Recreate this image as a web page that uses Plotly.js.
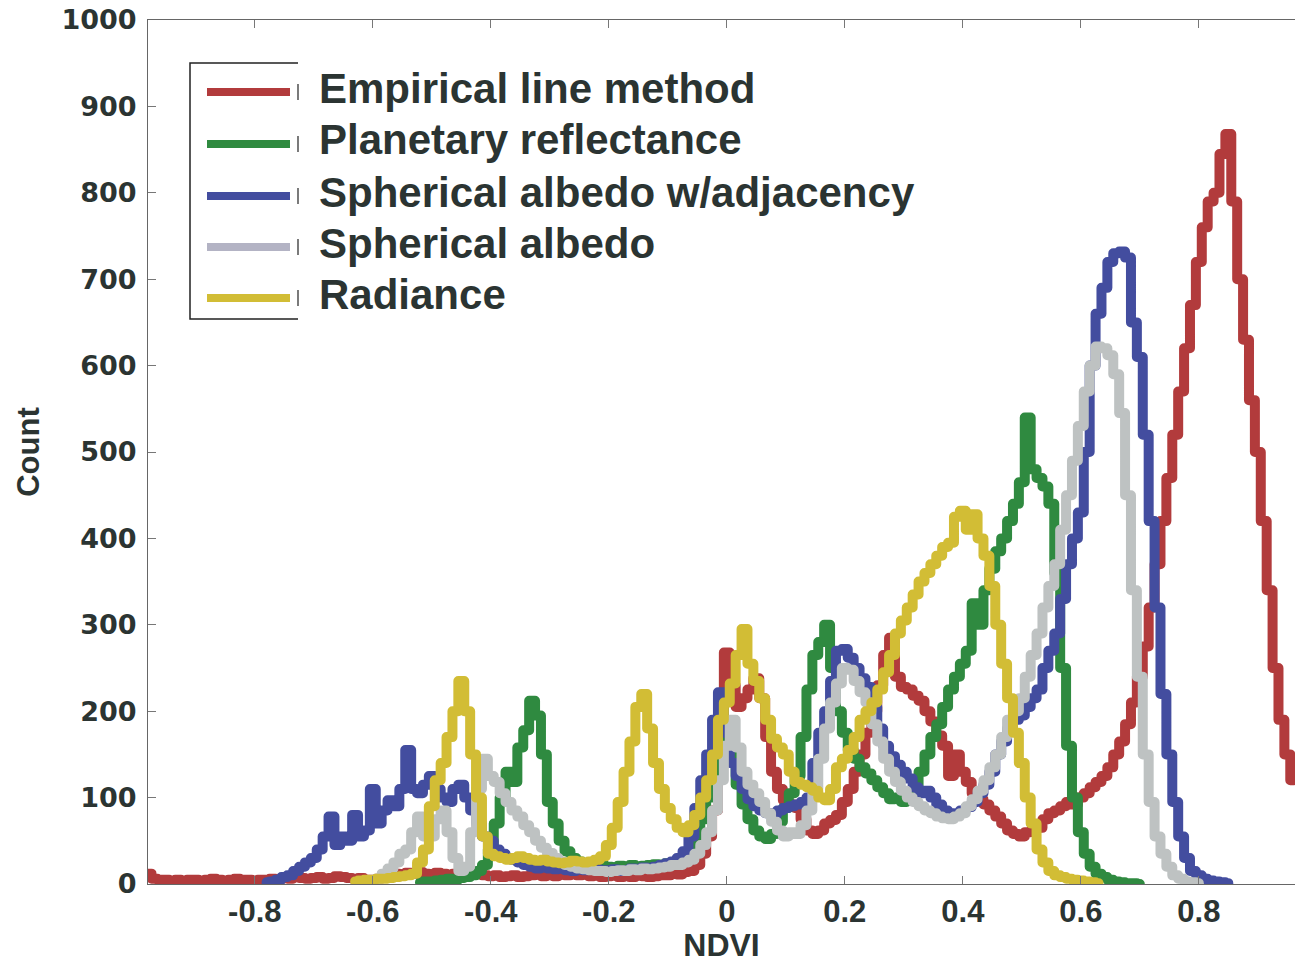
<!DOCTYPE html>
<html>
<head>
<meta charset="utf-8">
<script src="https://cdn.plot.ly/plotly-3.0.1.min.js"></script>
<style>html,body{margin:0;padding:0;background:#fff;}#chart{width:1295px;height:963px;}
.scatterlayer path.js-line{stroke-linejoin:round !important;stroke-linecap:round !important;}</style>
</head>
<body>
<div id="chart"></div>
<script>
// NDVI bin positions
const ndviBins = [
-0.98,-0.97,-0.96,-0.95,-0.94,-0.93,-0.92,-0.91,
-0.90,-0.89,-0.88,-0.87,-0.86,-0.85,-0.84,-0.83,-0.82,-0.81,
-0.80,-0.79,-0.78,-0.77,-0.76,-0.75,-0.74,-0.73,-0.72,-0.71,
-0.70,-0.69,-0.68,-0.67,-0.66,-0.65,-0.64,-0.63,-0.62,-0.61,
-0.60,-0.59,-0.58,-0.57,-0.56,-0.55,-0.54,-0.53,-0.52,-0.51,
-0.50,-0.49,-0.48,-0.47,-0.46,-0.45,-0.44,-0.43,-0.42,-0.41,
-0.40,-0.39,-0.38,-0.37,-0.36,-0.35,-0.34,-0.33,-0.32,-0.31,
-0.30,-0.29,-0.28,-0.27,-0.26,-0.25,-0.24,-0.23,-0.22,-0.21,
-0.20,-0.19,-0.18,-0.17,-0.16,-0.15,-0.14,-0.13,-0.12,-0.11,
-0.10,-0.09,-0.08,-0.07,-0.06,-0.05,-0.04,-0.03,-0.02,-0.01,
0.00,0.01,0.02,0.03,0.04,0.05,0.06,0.07,0.08,0.09,
0.10,0.11,0.12,0.13,0.14,0.15,0.16,0.17,0.18,0.19,
0.20,0.21,0.22,0.23,0.24,0.25,0.26,0.27,0.28,0.29,
0.30,0.31,0.32,0.33,0.34,0.35,0.36,0.37,0.38,0.39,
0.40,0.41,0.42,0.43,0.44,0.45,0.46,0.47,0.48,0.49,
0.50,0.51,0.52,0.53,0.54,0.55,0.56,0.57,0.58,0.59,
0.60,0.61,0.62,0.63,0.64,0.65,0.66,0.67,0.68,0.69,
0.70,0.71,0.72,0.73,0.74,0.75,0.76,0.77,0.78,0.79,
0.80,0.81,0.82,0.83,0.84,0.85,0.86,0.87,0.88,0.89,
0.90,0.91,0.92,0.93,0.94,0.95,0.96
];

const seriesNames = ["Empirical line method","Planetary reflectance","Spherical albedo w/adjacency","Spherical albedo","Radiance"];

const empiricalLine = [
12,6,5,5,4,5,4,5,
5,4,5,6,5,4,5,6,5,5,
4,5,5,6,5,7,6,8,7,6,
7,8,6,7,9,8,7,6,7,5,
5,6,8,10,12,11,13,12,14,12,
11,13,12,10,12,11,13,14,12,10,
9,10,8,9,10,8,9,10,11,9,
10,9,11,10,12,10,11,9,10,8,
9,10,8,9,8,10,9,8,9,10,
10,12,11,14,15,22,35,55,85,140,
268,230,205,215,225,238,215,170,130,110,
97,92,88,75,62,58,62,70,74,80,
95,110,130,150,175,200,230,265,285,240,
228,225,218,212,200,188,172,160,125,150,
130,118,105,98,92,85,78,70,62,58,
55,60,62,65,75,82,85,90,95,92,
100,105,112,118,125,135,150,165,185,210,
240,275,320,370,420,470,520,570,620,670,
720,760,790,800,845,868,790,700,630,560,
500,420,340,250,190,150,120
];

const planetaryRefl = [
null,null,null,null,null,null,null,null,
null,null,null,null,null,null,null,null,null,null,
null,null,null,null,null,null,null,null,null,null,
null,null,null,null,null,null,null,null,null,null,
null,null,null,null,null,null,null,null,2,3,
3,4,5,6,5,7,8,10,15,22,
40,70,100,130,118,158,178,212,195,150,
95,70,50,38,30,26,24,22,20,21,
20,19,21,20,22,20,21,22,23,22,
24,25,28,32,40,55,75,100,130,155,
165,150,115,92,75,62,55,52,58,72,
88,105,125,170,225,265,280,300,250,200,
175,155,145,135,128,120,112,105,98,100,
95,100,110,130,150,170,185,205,225,240,
255,270,325,300,340,365,385,400,420,440,
465,540,480,470,460,440,360,250,160,100,
60,35,20,12,8,5,3,2,1,1,
0,null,null,null,null,null,null,null,null,null,
null,null,null,null,null,null,null,null,null,null,
null,null,null,null,null,null,null
];

const sphAlbedoAdj = [
null,null,null,null,null,null,null,null,
null,null,null,null,null,null,null,null,null,null,
null,null,2,3,5,8,10,15,20,25,
30,40,55,78,45,55,50,80,55,62,
110,70,85,97,90,110,155,110,105,115,
125,110,100,95,110,115,100,85,70,55,
50,40,35,30,28,25,22,20,18,20,
18,17,18,16,15,17,16,18,17,16,
16,17,15,16,18,17,19,18,20,22,
24,26,30,38,55,88,120,150,190,222,
175,140,125,110,98,90,85,82,80,85,
88,90,92,95,100,140,175,200,235,270,
272,262,250,238,228,205,180,160,148,138,
130,122,112,105,108,100,92,85,82,80,
85,89,95,105,115,130,150,165,180,190,
195,205,215,225,250,270,290,330,370,400,
430,500,600,660,690,720,730,732,725,650,
610,520,420,320,220,150,95,55,30,15,
10,6,4,3,2,1,null,null,null,null,
null,null,null,null,null,null,null
];

const sphAlbedo = [
null,null,null,null,null,null,null,null,
null,null,null,null,null,null,null,null,null,null,
null,null,null,null,null,null,null,null,null,null,
null,null,null,null,null,null,null,null,null,null,
3,6,12,18,25,35,40,60,78,55,
55,75,85,60,30,15,20,60,110,145,
125,118,105,95,85,78,68,60,50,42,
36,30,26,22,20,18,17,16,15,15,
14,15,16,15,17,16,18,17,18,19,
20,22,22,25,28,35,45,60,85,120,
160,190,158,130,115,105,95,82,72,62,
55,60,58,68,85,110,145,180,210,232,
250,248,235,222,210,185,165,145,130,118,
108,100,95,90,85,82,78,76,75,78,
82,90,98,108,120,135,150,170,190,200,
215,240,265,290,320,345,370,410,450,490,
530,570,600,622,620,612,590,545,450,340,
240,150,95,55,35,20,10,6,3,2,
1,null,null,null,null,null,null,null,null,null,
null,null,null,null,null,null,null
];

const radiance = [
null,null,null,null,null,null,null,null,
null,null,null,null,null,null,null,null,null,null,
null,null,null,null,null,null,null,null,null,null,
null,null,null,null,null,null,null,3,4,5,
5,6,6,7,8,9,10,12,25,40,
90,120,140,170,200,235,200,150,100,55,
35,32,30,28,30,32,30,28,27,28,
26,25,24,25,27,26,25,26,28,32,
45,65,95,130,165,205,220,180,140,110,
88,75,65,60,68,80,100,120,150,190,
210,232,265,295,255,235,215,190,168,158,
150,130,118,115,112,108,100,97,110,135,
145,155,170,190,200,210,225,245,265,290,
305,320,335,350,360,370,380,390,395,425,
432,410,428,400,380,345,300,255,215,175,
140,100,70,40,25,15,10,8,6,5,
4,3,2,1,null,null,null,null,null,null,
null,null,null,null,null,null,null,null,null,null,
null,null,null,null,null,null,null,null,null,null,
null,null,null,null,null,null,null
];

const xTickVals = [-0.8,-0.6,-0.4,-0.2,0,0.2,0.4,0.6,0.8];
const xTickText = ["-0.8","-0.6","-0.4","-0.2","0","0.2","0.4","0.6","0.8"];
const yTickVals = [0,100,200,300,400,500,600,700,800,900,1000];
const yTickText = ["0","100","200","300","400","500","600","700","800","900","1000"];

const seriesValues = [empiricalLine, planetaryRefl, sphAlbedoAdj, sphAlbedo, radiance];
const colors = ["#b23b3c","#2f8a40","#434d9f","#bec2c2","#d2bd35"];
const legendColors = ["#b23b3c","#2f8a40","#434d9f","#b3b3c4","#d2bd35"];

const traces = seriesValues.map((vals, i) => ({
  type: "scatter", mode: "lines", name: seriesNames[i],
  x: ndviBins, y: vals,
  line: {color: colors[i], width: 10, shape: "hvh"},
  connectgaps: false, showlegend: false, hoverinfo: "x+y+name"
}));

// plot-area geometry (pixels)
const L = 148, T = 20, W = 1147, H = 864;
const px = v => (v - L) / W;
const py = v => (T + H - v) / H;

const textColor = "#2b3432";
const rowY = [88, 140, 192, 243, 294];
const shapes = [];
const annotations = [];
rowY.forEach((y, i) => {
  shapes.push({type: "line", xref: "paper", yref: "paper",
    x0: px(207), x1: px(290), y0: py(y + 4), y1: py(y + 4),
    line: {color: legendColors[i], width: 8}});
  shapes.push({type: "line", xref: "paper", yref: "paper",
    x0: px(298), x1: px(298), y0: py(y - 4), y1: py(y + 12),
    line: {color: "#222", width: 1.2}});
  annotations.push({xref: "paper", yref: "paper", x: px(317), y: py(y),
    xanchor: "left", yanchor: "middle", showarrow: false, text: seriesNames[i],
    font: {family: "Liberation Sans, Arial, sans-serif", size: 42, weight: 700, color: textColor}});
});
shapes.push({type: "path", xref: "paper", yref: "paper",
  path: `M ${px(298)} ${py(63)} L ${px(190)} ${py(63)} L ${px(190)} ${py(319)} L ${px(298)} ${py(319)}`,
  line: {color: "#222", width: 1.5}});

const layout = {
  width: 1295, height: 963,
  margin: {l: L, r: 0, t: T, b: 963 - T - H, pad: 0},
  paper_bgcolor: "#ffffff", plot_bgcolor: "#ffffff",
  showlegend: false,
  xaxis: {
    range: [-0.981, 0.963], tickvals: xTickVals, ticktext: xTickText,
    ticks: "inside", ticklen: 8, tickwidth: 1, tickcolor: "#777",
    showline: true, linecolor: "#666", linewidth: 1, mirror: "ticks",
    showgrid: false, zeroline: false,
    tickfont: {family: "Liberation Sans, Arial, sans-serif", size: 31, weight: 700, color: textColor},
    ticklabelstandoff: 0,
    title: {text: "NDVI", standoff: 19,
      font: {family: "Liberation Sans, Arial, sans-serif", size: 32, weight: 700, color: textColor}}
  },
  yaxis: {
    range: [0, 1000], tickvals: yTickVals, ticktext: yTickText,
    ticks: "inside", ticklen: 8, tickwidth: 1, tickcolor: "#777",
    showline: true, linecolor: "#666", linewidth: 1, mirror: false,
    showgrid: false, zeroline: false,
    tickfont: {family: "DejaVu Sans, Verdana, sans-serif", size: 27, weight: 700, color: textColor},
    ticklabelstandoff: 5,
    title: {text: "Count", standoff: 12,
      font: {family: "Liberation Sans, Arial, sans-serif", size: 31, weight: 700, color: textColor}}
  },
  shapes: shapes,
  annotations: annotations
};

Plotly.newPlot("chart", traces, layout, {displayModeBar: false, staticPlot: true});
</script>
</body>
</html>
